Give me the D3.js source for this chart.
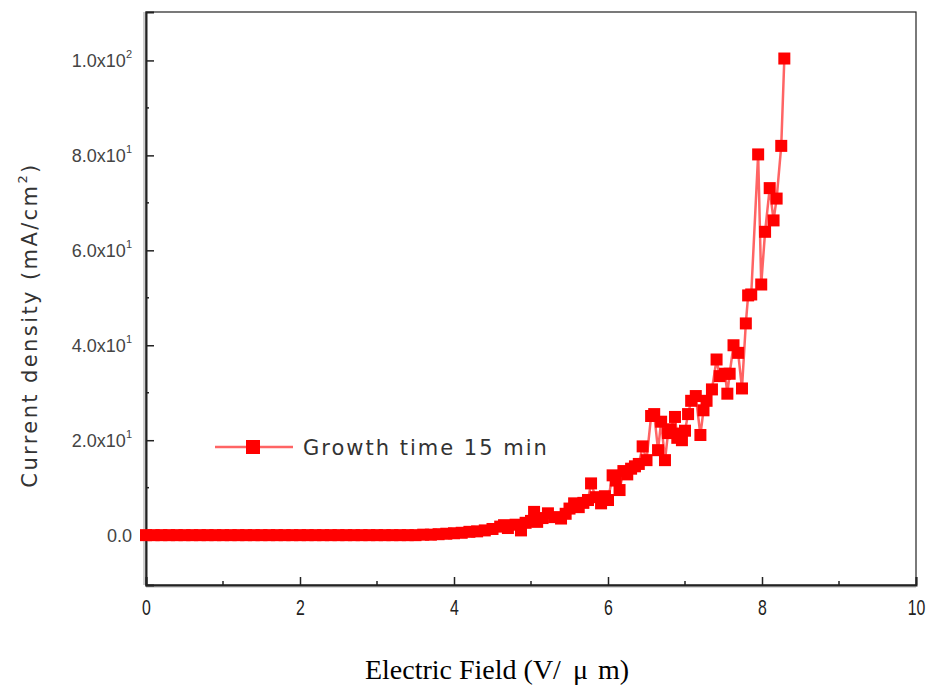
<!DOCTYPE html>
<html>
<head>
<meta charset="utf-8">
<script src="https://cdn.jsdelivr.net/npm/d3@7/dist/d3.min.js"></script>
<style>
  html, body { margin: 0; padding: 0; background: #fff; }
  svg { display: block; }
</style>
</head>
<body>
<svg id="chart" width="927" height="688"></svg>
<script>
// Field emission J–E curve: electric field (V/µm) vs current density (mA/cm²)
const fieldValues = [
  0.0, 0.1, 0.2, 0.3, 0.4, 0.5, 0.6, 0.7, 0.8, 0.9,
  1.0, 1.1, 1.2, 1.3, 1.4, 1.5, 1.6, 1.7, 1.8, 1.9,
  2.0, 2.1, 2.2, 2.3, 2.4, 2.5, 2.6, 2.7, 2.8, 2.9,
  3.0, 3.1, 3.2, 3.3, 3.4, 3.5, 3.6, 3.7, 3.8, 3.9,
  4.0, 4.1, 4.2, 4.3, 4.4, 4.5, 4.6, 4.65, 4.7, 4.8,
  4.87, 4.93, 5.0, 5.04, 5.08, 5.15, 5.22, 5.3, 5.39, 5.45,
  5.5, 5.56, 5.62, 5.68, 5.74, 5.78, 5.84, 5.91, 5.96, 6.0,
  6.06, 6.1, 6.15, 6.2, 6.25, 6.3, 6.35, 6.4, 6.45, 6.5,
  6.56, 6.6, 6.65, 6.69, 6.74, 6.78, 6.81, 6.87, 6.9, 6.93,
  6.96, 7.0, 7.04, 7.08, 7.14, 7.2, 7.24, 7.28, 7.35, 7.41,
  7.45, 7.52, 7.55, 7.58, 7.63, 7.69, 7.74, 7.79, 7.82, 7.86,
  7.95, 7.99, 8.04, 8.1, 8.15, 8.19, 8.25, 8.29
];
const currentValues = [
  0.0, 0.0, 0.0, 0.0, 0.0, 0.0, 0.0, 0.0, 0.0, 0.0,
  0.0, 0.0, 0.0, 0.0, 0.0, 0.0, 0.0, 0.0, 0.0, 0.0,
  0.0, 0.0, 0.0, 0.0, 0.0, 0.0, 0.0, 0.0, 0.0, 0.0,
  0.0, 0.0, 0.0, 0.0, 0.0, 0.0, 0.1, 0.1, 0.2, 0.3,
  0.4, 0.5, 0.7, 0.8, 1.0, 1.3, 1.8, 2.1, 1.5, 2.2,
  1.0, 2.6, 3.0, 4.9, 2.8, 3.6, 4.6, 3.8, 3.5, 4.5,
  5.6, 6.7, 5.9, 6.8, 7.4, 10.9, 8.0, 6.7, 8.2, 7.4,
  12.6, 11.5, 9.5, 13.5, 12.8, 14.0, 14.5, 15.0, 18.7, 15.8,
  25.1, 25.5, 17.9, 23.9, 15.8, 21.5, 22.3, 24.9, 20.5, 21.4,
  20.0, 22.0, 25.5, 28.3, 29.3, 21.1, 26.3, 28.3, 30.7, 37.0,
  33.5, 34.0, 29.8, 34.0, 40.0, 38.4, 30.9, 44.6, 50.5, 50.7,
  80.2, 52.8, 63.9, 73.1, 66.3, 70.9, 82.0, 100.4
];
const xTickValues = [0, 2, 4, 6, 8, 10];
const yTickValues = [0, 20, 40, 60, 80, 100];
const yTickMantissa = ["0.0", "2.0", "4.0", "6.0", "8.0", "1.0"];
const yTickExponent = ["", "1", "1", "1", "1", "2"];
const seriesName = "Growth time 15 min";

const points = fieldValues.map((f, i) => ({ x: f, y: currentValues[i] }));

const svg = d3.select("#chart");
const margin = { left: 146, right: 11, top: 12, bottom: 103 };
const W = 927, H = 688;
const plotW = W - margin.left - margin.right;
const plotH = H - margin.top - margin.bottom;

const x = d3.scaleLinear().domain([0, 10]).range([margin.left, margin.left + plotW]);
const y = d3.scaleLinear().domain([-10.5, 110.2]).range([margin.top + plotH, margin.top]);

const lineColor = "#ff6464";
const markColor = "#ff0000";
const axisColor = "#222";

// frame (top and right)
svg.append("rect")
  .attr("x", margin.left).attr("y", margin.top)
  .attr("width", plotW).attr("height", plotH)
  .attr("fill", "none").attr("stroke", axisColor).attr("stroke-width", 1.2);

// soft shadow along left and bottom axis
svg.append("line")
  .attr("x1", margin.left - 2).attr("x2", margin.left - 2)
  .attr("y1", margin.top).attr("y2", margin.top + plotH)
  .attr("stroke", "#cfcfcf").attr("stroke-width", 2);
svg.append("line")
  .attr("x1", margin.left).attr("x2", margin.left + plotW)
  .attr("y1", margin.top + plotH + 2).attr("y2", margin.top + plotH + 2)
  .attr("stroke", "#d8d8d8").attr("stroke-width", 2);

// bottom axis: inward ticks, narrow tall digits
const xAxis = d3.axisBottom(x).tickValues(xTickValues).tickSize(-8).tickPadding(14)
  .tickFormat(d3.format("d"));
const gx = svg.append("g").attr("transform", `translate(0,${margin.top + plotH})`).call(xAxis);
gx.select(".domain").attr("stroke", axisColor).attr("stroke-width", 2);
gx.selectAll(".tick line").attr("stroke", axisColor).attr("stroke-width", 1.5);
gx.selectAll(".tick text")
  .attr("font-family", "'Liberation Sans', Arial, sans-serif")
  .attr("font-size", 22).attr("fill", "#222")
  .attr("transform", "scale(0.72,1)");

const xMinor = d3.range(1, 10, 2);
svg.append("g").selectAll("line").data(xMinor).join("line")
  .attr("x1", d => x(d)).attr("x2", d => x(d))
  .attr("y1", margin.top + plotH).attr("y2", margin.top + plotH - 4)
  .attr("stroke", axisColor).attr("stroke-width", 1.5);

// left axis: inward ticks
const yAxis = d3.axisLeft(y).tickValues(yTickValues).tickSize(-8).tickFormat("").tickPadding(0);
const gy = svg.append("g").attr("transform", `translate(${margin.left},0)`).call(yAxis);
gy.select(".domain").attr("stroke", axisColor).attr("stroke-width", 2);
gy.selectAll(".tick line").attr("stroke", axisColor).attr("stroke-width", 1.5);

const yMinor = [10, 30, 50, 70, 90];
svg.append("g").selectAll("line").data(yMinor).join("line")
  .attr("x1", margin.left).attr("x2", margin.left + 3)
  .attr("y1", d => y(d)).attr("y2", d => y(d))
  .attr("stroke", axisColor).attr("stroke-width", 1.5);

// y tick labels with scientific superscripts
const yLabels = svg.append("g")
  .attr("font-family", "'Liberation Sans', Arial, sans-serif")
  .attr("font-size", 18).attr("fill", "#444");
yTickValues.forEach((v, i) => {
  const t = yLabels.append("text")
    .attr("x", 132).attr("y", y(v) + 7)
    .attr("text-anchor", "end");
  if (yTickExponent[i]) {
    t.append("tspan").text(yTickMantissa[i] + "x10");
    t.append("tspan").attr("dy", -9).attr("font-size", 11).text(yTickExponent[i]);
  } else {
    t.text(yTickMantissa[i]);
  }
});

// data line and markers
const line = d3.line().x(d => x(d.x)).y(d => y(d.y));
svg.append("path").datum(points)
  .attr("d", line).attr("fill", "none")
  .attr("stroke", lineColor).attr("stroke-width", 2.5);

const ms = 12;
svg.append("g").selectAll("rect").data(points).join("rect")
  .attr("x", d => x(d.x) - ms / 2).attr("y", d => y(d.y) - ms / 2)
  .attr("width", ms).attr("height", ms)
  .attr("fill", markColor);

// legend
const lg = svg.append("g");
const ly = 447;
lg.append("line").attr("x1", 215).attr("x2", 246).attr("y1", ly).attr("y2", ly)
  .attr("stroke", lineColor).attr("stroke-width", 2.5);
lg.append("line").attr("x1", 260).attr("x2", 293).attr("y1", ly).attr("y2", ly)
  .attr("stroke", lineColor).attr("stroke-width", 2.5);
lg.append("rect").attr("x", 253 - 7).attr("y", ly - 7).attr("width", 14).attr("height", 14)
  .attr("fill", markColor);
lg.append("text").attr("x", 303).attr("y", ly + 8)
  .attr("font-family", "'DejaVu Sans', sans-serif").attr("font-size", 21)
  .attr("letter-spacing", 2).attr("fill", "#333")
  .text(seriesName);

// axis titles
const xt = svg.append("text")
  .attr("x", 497).attr("y", 679).attr("text-anchor", "middle")
  .attr("font-family", "'Liberation Serif', 'Times New Roman', serif")
  .attr("font-size", 28).attr("fill", "#000");
xt.append("tspan").text("Electric Field (V/");
xt.append("tspan").attr("dx", 12).text("\u03BC");
xt.append("tspan").attr("dx", 10).text("m)");

const yt = svg.append("text")
  .attr("transform", `translate(37,325) rotate(-90)`)
  .attr("text-anchor", "middle")
  .attr("font-family", "'DejaVu Sans', sans-serif").attr("font-size", 21)
  .attr("letter-spacing", 2.4).attr("fill", "#333");
yt.append("tspan").text("Current density (mA/cm");
yt.append("tspan").attr("dy", -10).attr("font-size", 13).text("2");
yt.append("tspan").attr("dy", 10).text(")");
</script>
</body>
</html>
